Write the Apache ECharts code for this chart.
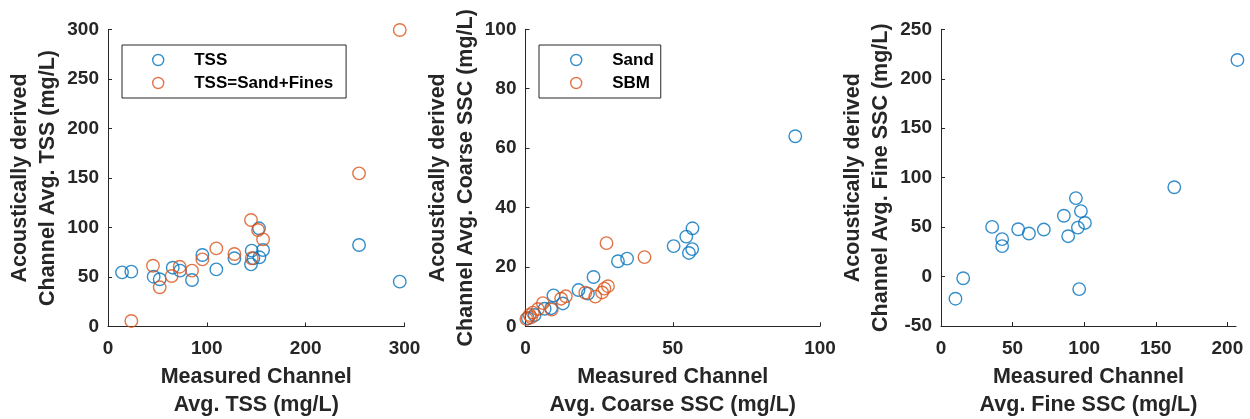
<!DOCTYPE html>
<html>
<head>
<meta charset="utf-8">
<script src="https://cdn.jsdelivr.net/npm/echarts@6/dist/echarts.min.js"></script>
<style>
  html, body { margin: 0; padding: 0; background: #fff; }
  #chart { width: 1250px; height: 419px; }
</style>
</head>
<body>
<div id="chart"></div>
<script>
// Panel 1: total suspended solids (measured vs acoustically derived)
const tssX = [14.2, 23.6, 46.2, 52.3, 65.5, 72.9, 85.0, 95.5, 109.6, 127.9, 145.4, 144.7, 147.1, 152.8, 156.9, 153.2, 254.0, 295.2];
const tssY = [54.7, 55.4, 50.3, 47.7, 59.4, 56.4, 47.0, 72.2, 57.7, 68.9, 76.6, 62.8, 68.9, 99.2, 77.3, 69.9, 82.3, 45.3];
const tssSumX = [23.6, 45.5, 52.3, 64.4, 72.5, 85.0, 95.5, 109.6, 127.9, 144.7, 145.4, 151.8, 156.9, 254.0, 295.2];
const tssSumY = [5.6, 61.4, 39.6, 51.0, 60.4, 56.4, 67.8, 78.9, 73.2, 107.6, 68.9, 97.5, 88.0, 154.7, 299.5];

// Panel 2: coarse (sand) SSC
const sandX = [91.6, 56.7, 54.6, 50.3, 56.6, 55.5, 34.5, 31.4, 23.1, 18.0, 21.2, 9.5, 12.7, 8.7, 6.5, 3.1, 0.8];
const sandY = [64.0, 33.0, 30.2, 27.0, 26.0, 24.7, 22.8, 21.9, 16.6, 12.2, 11.0, 10.4, 7.7, 6.1, 5.9, 3.8, 2.7];
const sbmX = [27.5, 40.4, 28.0, 26.8, 26.0, 23.7, 20.3, 13.7, 12.1, 8.9, 5.9, 4.2, 2.5, 1.4, 0.3, 1.9];
const sbmY = [28.0, 23.3, 13.5, 12.7, 11.4, 10.0, 11.3, 10.1, 9.3, 5.6, 7.8, 5.8, 4.6, 3.8, 2.5, 3.0];

// Panel 3: fine SSC
const fineX = [207.0, 162.9, 94.2, 97.7, 85.8, 100.5, 95.6, 88.8, 35.7, 53.9, 61.4, 71.8, 42.7, 42.7, 15.5, 10.1, 96.5];
const fineY = [219.0, 90.3, 79.3, 66.2, 61.5, 54.2, 49.5, 40.8, 50.2, 47.8, 43.5, 47.5, 37.8, 30.8, -1.7, -22.4, -12.7];

// Axis tick values
const ticks1X = [0, 100, 200, 300];
const ticks1Y = [0, 50, 100, 150, 200, 250, 300];
const ticks2X = [0, 50, 100];
const ticks2Y = [0, 20, 40, 60, 80, 100];
const ticks3X = [0, 50, 100, 150, 200];
const ticks3Y = [-50, 0, 50, 100, 150, 200, 250];

const BLUE = '#0072BD';
const ORANGE = '#D95319';
const AXIS = '#262626';
const FONT = '"Liberation Sans", Arial, Helvetica, sans-serif';

const zip = (xs, ys) => xs.map((x, i) => [x, ys[i]]);

function xAxisFor(grid, min, max, tickVals, name) {
  return {
    type: 'value', gridIndex: grid, min: min, max: max,
    name: name, nameLocation: 'middle', nameGap: 35.5,
    nameTextStyle: { fontFamily: FONT, fontWeight: 'bold', fontSize: 21.5, lineHeight: 28, color: AXIS },
    axisLine: { show: true, onZero: false, lineStyle: { color: AXIS, width: 1 } },
    axisTick: { show: true, inside: true, length: 4, customValues: tickVals, lineStyle: { color: AXIS } },
    axisLabel: { customValues: tickVals, margin: 13, fontFamily: FONT, fontWeight: 'bold', fontSize: 19, color: AXIS },
    splitLine: { show: false }
  };
}

function yAxisFor(grid, min, max, tickVals, name) {
  return {
    type: 'value', gridIndex: grid, min: min, max: max,
    name: name, nameLocation: 'middle', nameRotate: 90, nameGap: 45.5,
    nameTextStyle: { fontFamily: FONT, fontWeight: 'bold', fontSize: 21.5, lineHeight: 28, color: AXIS },
    axisLine: { show: true, onZero: false, lineStyle: { color: AXIS, width: 1 } },
    axisTick: { show: true, inside: true, length: 4, customValues: tickVals, lineStyle: { color: AXIS } },
    axisLabel: { customValues: tickVals, margin: 9, fontFamily: FONT, fontWeight: 'bold', fontSize: 19, color: AXIS },
    splitLine: { show: false }
  };
}

function scatter(name, grid, data, color) {
  return {
    type: 'scatter', name: name, xAxisIndex: grid, yAxisIndex: grid,
    data: data, symbol: 'circle', symbolSize: 12.5, clip: false,
    itemStyle: { color: 'rgba(0,0,0,0)', borderColor: color, borderWidth: 1.4 },
    emphasis: { disabled: true }
  };
}

function legendItem(name, color) {
  return { name: name, icon: 'circle', itemStyle: { color: 'rgba(0,0,0,0)', borderColor: color, borderWidth: 1.4 } };
}

function legendFor(left, padLeft, padRight, items) {
  return {
    orient: 'vertical', left: left, top: 45,
    data: items, selectedMode: false,
    itemWidth: 62, itemHeight: 11, itemGap: 5,
    padding: [6, padRight, 6, padLeft],
    borderColor: AXIS, borderWidth: 1, backgroundColor: '#fff',
    textStyle: { fontFamily: FONT, fontWeight: 'bold', fontSize: 17, lineHeight: 18, color: '#000' }
  };
}

const gridBase = { containLabel: false, outerBoundsMode: 'none' };

const chart = echarts.init(document.getElementById('chart'), null, { renderer: 'canvas' });
chart.setOption({
  backgroundColor: '#fff',
  animation: false,
  grid: [
    Object.assign({ left: 108, top: 29.5, width: 296.5, height: 297 }, gridBase),
    Object.assign({ left: 525.5, top: 29.3, width: 294.5, height: 297 }, gridBase),
    Object.assign({ left: 941, top: 29.3, width: 295, height: 296.7 }, gridBase)
  ],
  xAxis: [
    xAxisFor(0, 0, 300, ticks1X, 'Measured Channel\nAvg. TSS (mg/L)'),
    xAxisFor(1, 0, 100, ticks2X, 'Measured Channel\nAvg. Coarse SSC (mg/L)'),
    xAxisFor(2, 0, 206, ticks3X, 'Measured Channel\nAvg. Fine SSC (mg/L)')
  ],
  yAxis: [
    yAxisFor(0, 0, 300, ticks1Y, 'Acoustically derived\nChannel Avg. TSS (mg/L)'),
    yAxisFor(1, 0, 100, ticks2Y, 'Acoustically derived\nChannel Avg. Coarse SSC (mg/L)'),
    yAxisFor(2, -50, 250, ticks3Y, 'Acoustically derived\nChannel Avg. Fine SSC (mg/L)')
  ],
  legend: [
    legendFor(122, 30, 13, [legendItem('TSS', BLUE), legendItem('TSS=Sand+Fines', ORANGE)]),
    legendFor(539, 31, 7, [legendItem('Sand', BLUE), legendItem('SBM', ORANGE)])
  ],
  series: [
    scatter('TSS', 0, zip(tssX, tssY), BLUE),
    scatter('TSS=Sand+Fines', 0, zip(tssSumX, tssSumY), ORANGE),
    scatter('Sand', 1, zip(sandX, sandY), BLUE),
    scatter('SBM', 1, zip(sbmX, sbmY), ORANGE),
    scatter('Fine SSC', 2, zip(fineX, fineY), BLUE)
  ]
});
</script>
</body>
</html>
